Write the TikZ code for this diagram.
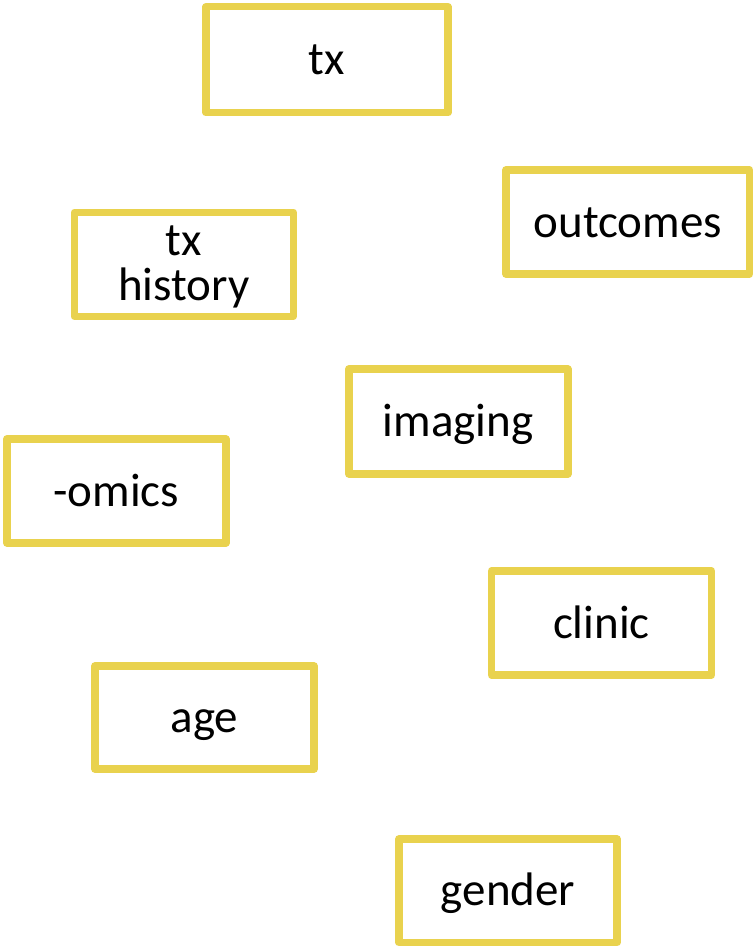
\documentclass[tikz,border=0pt]{standalone}
\usepackage{fontspec}
\setmainfont{Carlito}
\usepackage{tikz}
\usepackage{xcolor}
\definecolor{boxgold}{RGB}{233, 210, 78}

\begin{document}
\begin{tikzpicture}[x=1pt, y=-1pt,
    featbox/.style={draw=boxgold, line width=7.5pt, line join=round, fill=white,
        minimum width=219pt, minimum height=104pt, inner sep=0pt,
        font=\fontsize{47}{45}\selectfont, text height=32pt, text depth=2pt}]
    \useasboundingbox (0,0) rectangle (753,947);

    % Feature boxes
    \node[featbox, minimum width=242pt, minimum height=106pt] (tx) at (327,59.75) {tx};
    \node[featbox, minimum width=243.5pt] (outcomes) at (627.75,222) {outcomes};
    \node[featbox, align=center, text height=74pt, text depth=2pt] (txhist) at (183.75,264.25) {tx\\history};
    \node[featbox, minimum height=105pt] (imaging) at (458.25,421.5) {imaging};
    \node[featbox] (omics) at (116.25,491) {-omics};
    \node[featbox, minimum width=220pt] (clinic) at (601.5,623) {clinic};
    \node[featbox, minimum height=103pt] (age) at (204.5,717.5) {age};
    \node[featbox, minimum width=218pt, minimum height=103.5pt] (gender) at (508,890.75) {gender};
\end{tikzpicture}
\end{document}
